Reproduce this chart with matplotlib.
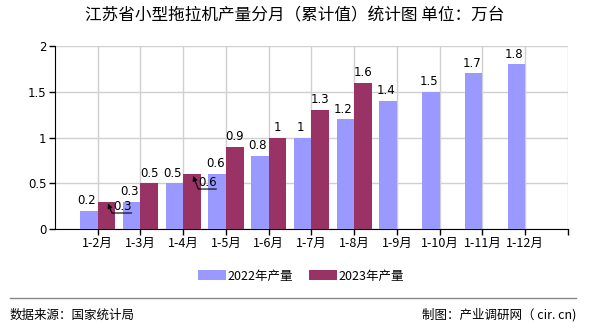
import matplotlib
matplotlib.use("Agg")
import matplotlib.pyplot as plt
import numpy as np

plt.rcParams['font.family'] = ['Noto Sans CJK SC', 'DejaVu Sans']

# 数据
meses = ['1-2月', '1-3月', '1-4月', '1-5月', '1-6月', '1-7月', '1-8月',
         '1-9月', '1-10月', '1-11月', '1-12月']
prod_2022 = [0.2, 0.3, 0.5, 0.6, 0.8, 1, 1.2, 1.4, 1.5, 1.7, 1.8]
prod_2023 = [0.3, 0.5, 0.6, 0.9, 1, 1.3, 1.6]
etiquetas_y = ['0', '0.5', '1', '1.5', '2']

color_2022 = '#9999FF'
color_2023 = '#993366'

fig = plt.figure(figsize=(5.9, 3.3), dpi=100)
ax = fig.add_axes([0.0932, 0.306, 0.8695, 0.5546])

x = np.arange(len(meses))
ancho = 0.41
ax.bar(x[:len(prod_2022)] - ancho / 2, prod_2022, ancho, color=color_2022,
       label='2022年产量', zorder=3)
ax.bar(x[:len(prod_2023)] + ancho / 2, prod_2023, ancho, color=color_2023,
       label='2023年产量', zorder=3)

# etiquetas de valores
for i, v in enumerate(prod_2022):
    ax.text(i - ancho / 2 - 0.05, v + 0.04, f'{v:g}', ha='center', va='bottom',
            fontsize=8.5, family='DejaVu Sans', zorder=5)

# algunas etiquetas desplazadas con flecha y subrayado
desplazadas = {0: ((0.24, 0.28), (0.36, 0.175)),
               2: ((2.23, 0.58), (2.34, 0.437))}
for i, v in enumerate(prod_2023):
    if i in desplazadas:
        punta, pos_texto = desplazadas[i]
        ax.annotate(f'{v:g}', xy=punta, xytext=pos_texto,
                    fontsize=8.5, family='DejaVu Sans', ha='left', va='bottom',
                    arrowprops=dict(arrowstyle='-|>', color='black', lw=0.8,
                                    shrinkA=0, shrinkB=0, mutation_scale=7,
                                    relpos=(1, 0), patchA=None,
                                    connectionstyle='angle,angleA=0,angleB=112,rad=0'),
                    zorder=6)
        continue
    ax.text(i + ancho / 2, v + 0.04, f'{v:g}', ha='center', va='bottom',
            fontsize=8.5, family='DejaVu Sans', zorder=5)

ax.set_xlim(-1, 11)
ax.set_ylim(0, 2)
ax.set_xticks(np.arange(0, 12))
ax.set_xticklabels(meses + [''], fontsize=9)
ax.set_yticks([0, 0.5, 1, 1.5, 2])
ax.set_yticklabels(etiquetas_y, fontsize=8.5, family='DejaVu Sans')
ax.grid(True, color='#D0D0D0', lw=1, zorder=0)
ax.spines['top'].set_visible(False)
ax.spines['right'].set_visible(False)
ax.tick_params(axis='both', length=4, width=1, pad=2)

ax.legend(loc='upper center', bbox_to_anchor=(0.48, -0.16), ncol=2,
          frameon=False, fontsize=9, handlelength=2.2, handleheight=0.8,
          handletextpad=0.15, columnspacing=1.3)

fig.text(0.5, 0.953, '江苏省小型拖拉机产量分月（累计值）统计图 单位：万台',
         ha='center', va='center', fontsize=12)

# pie de figura
fig.add_artist(plt.Line2D([10 / 590, 576 / 590], [1 - 298 / 330, 1 - 298 / 330],
                          color='#888888', lw=1))
fig.text(10 / 590, 1 - 315 / 330, '数据来源：国家统计局', ha='left', va='center', fontsize=9)
fig.text(576 / 590, 1 - 315 / 330, '制图：产业调研网（ cir. cn)', ha='right', va='center', fontsize=9)

fig.savefig('out.png', dpi=100)
